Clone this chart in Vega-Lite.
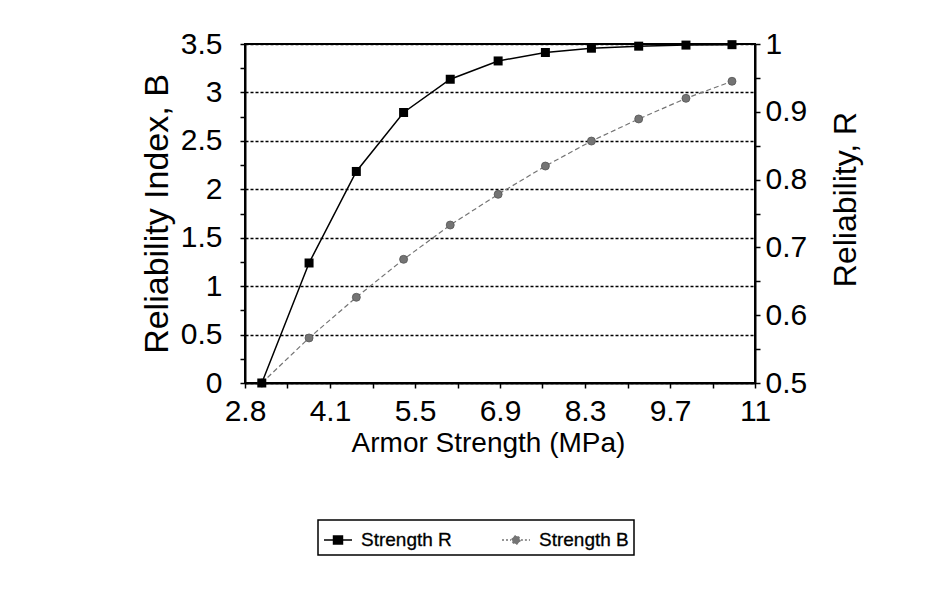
{
  "$schema": "https://vega.github.io/schema/vega-lite/v6.json",
  "width": 510,
  "height": 339,
  "autosize": "none",
  "padding": {"left": 245, "top": 44, "right": 197, "bottom": 211},
  "background": "white",
  "data": {
    "values": [
      {"strength": 3.07, "B": 0.0, "R": 0.5},
      {"strength": 3.83, "B": 0.465, "R": 0.677},
      {"strength": 4.59, "B": 0.885, "R": 0.812},
      {"strength": 5.35, "B": 1.277, "R": 0.899},
      {"strength": 6.10, "B": 1.631, "R": 0.948},
      {"strength": 6.87, "B": 1.948, "R": 0.975},
      {"strength": 7.63, "B": 2.24, "R": 0.9875},
      {"strength": 8.37, "B": 2.498, "R": 0.9938},
      {"strength": 9.13, "B": 2.726, "R": 0.9968},
      {"strength": 9.89, "B": 2.939, "R": 0.9984},
      {"strength": 10.63, "B": 3.115, "R": 0.999}
    ]
  },
  "config": {
    "view": {"stroke": "black", "strokeWidth": 2},
    "axis": {
      "labelFont": "Liberation Sans",
      "titleFont": "Liberation Sans",
      "labelFontSize": 30,
      "titleFontSize": 30,
      "labelColor": "black",
      "titleColor": "black",
      "titleFontWeight": "normal",
      "domainColor": "black",
      "domainWidth": 2,
      "tickColor": "black",
      "tickWidth": 1.5,
      "labelFlush": false,
      "labelOverlap": false,
      "grid": false
    }
  },
  "encoding": {
    "x": {
      "field": "strength",
      "type": "quantitative",
      "scale": {"domain": [2.8, 11], "nice": false, "zero": false},
      "axis": {
        "orient": "bottom",
        "title": "Armor Strength (MPa)",
        "titleFontSize": 28,
        "titleX": 243,
        "values": [2.8, 3.48333, 4.16667, 4.85, 5.53333, 6.21667, 6.9, 7.58333, 8.26667, 8.95, 9.63333, 10.31667, 11],
        "labelExpr": "datum.value < 2.9 ? '2.8' : abs(datum.value - 4.16667) < 0.01 ? '4.1' : abs(datum.value - 5.53333) < 0.01 ? '5.5' : abs(datum.value - 6.9) < 0.01 ? '6.9' : abs(datum.value - 8.26667) < 0.01 ? '8.3' : abs(datum.value - 9.63333) < 0.01 ? '9.7' : datum.value > 10.9 ? '11' : ''",
        "tickSize": 5,
        "labelPadding": 8,
        "titlePadding": 3,
        "encode": {
          "ticks": {"update": {"y": {"value": -5}, "y2": {"value": 5}}},
          "labels": {"update": {"stroke": {"value": "black"}, "strokeWidth": {"value": 0.5}}},
          "title": {"update": {"stroke": {"value": "black"}, "strokeWidth": {"value": 0.4}}}
        }
      }
    }
  },
  "layer": [
    {
      "encoding": {
        "y": {
          "field": "B",
          "type": "quantitative",
          "scale": {"domain": [0, 3.5], "nice": false, "zero": false},
          "axis": {
            "orient": "left",
            "title": "Reliability Index, B",
            "titleFontSize": 34,
            "values": [0, 0.25, 0.5, 0.75, 1, 1.25, 1.5, 1.75, 2, 2.25, 2.5, 2.75, 3, 3.25, 3.5],
            "labelExpr": "datum.value % 0.5 == 0 ? '' + datum.value : ''",
            "tickSize": 5,
            "labelPadding": 18,
            "titlePadding": 6,
            "grid": true,
            "gridColor": "black",
            "gridDash": [3, 2],
            "gridWidth": 1.3,
            "gridOpacity": {"condition": {"test": "datum.value % 0.5 != 0", "value": 0}, "value": 1},
            "encode": {
              "ticks": {
                "update": {
                  "x": [{"test": "datum.value % 0.5 == 0", "value": 5}, {"value": 3}],
                  "x2": [{"test": "datum.value % 0.5 == 0", "value": -5}, {"value": -3}]
                }
              },
              "labels": {"update": {"stroke": {"value": "black"}, "strokeWidth": {"value": 0.5}}},
              "title": {"update": {"stroke": {"value": "black"}, "strokeWidth": {"value": 0.4}}}
            }
          }
        },
        "color": {
          "datum": "Strength B",
          "type": "nominal",
          "scale": {"domain": ["Strength R", "Strength B"], "range": ["#000000", "#747474"]},
          "legend": {
            "orient": "none",
            "legendX": 73,
            "legendY": 476,
            "direction": "horizontal",
            "title": null,
            "strokeColor": "black",
            "fillColor": "white",
            "padding": 5,
            "labelFont": "Liberation Sans",
            "labelFontSize": 19,
            "labelColor": "black",
            "labelOffset": 8,
            "columnPadding": 47,
            "symbolSize": 784,
            "symbolStrokeWidth": 1.5,
            "encode": {
              "legend": {"update": {"strokeWidth": {"value": 1.5}}},
              "symbols": {
                "update": {
                  "shape": {"signal": "datum.value == 'Strength R' ? 'M-1,0H1M-0.32,-0.28H0.32V0.28H-0.32Z' : 'M-1,0H-0.35M0.35,0H1M0.28,0A0.28,0.28 0 1 1 -0.28,0A0.28,0.28 0 1 1 0.28,0Z'"},
                  "fill": {"signal": "datum.value == 'Strength R' ? '#000000' : '#777777'"},
                  "stroke": {"signal": "datum.value == 'Strength R' ? '#000000' : '#555555'"},
                  "strokeDash": {"signal": "datum.value == 'Strength R' ? [1, 0] : [2, 2]"},
                  "opacity": {"value": 1}
                }
              },
              "labels": {"update": {"stroke": {"value": "black"}, "strokeWidth": {"value": 0.3}}}
            }
          }
        }
      },
      "layer": [
        {"mark": {"type": "line", "strokeDash": [5, 3], "strokeWidth": 1.2}},
        {"mark": {"type": "point", "shape": "circle", "filled": true, "size": 64, "opacity": 1, "stroke": "#555555", "strokeWidth": 0.8}}
      ]
    },
    {
      "encoding": {
        "y": {
          "field": "R",
          "type": "quantitative",
          "scale": {"domain": [0.5, 1], "nice": false, "zero": false},
          "axis": {
            "orient": "right",
            "title": "Reliability, R",
            "titleFontSize": 32,
            "titleAngle": 270,
            "titleBaseline": "top",
            "titleY": 155,
            "values": [0.5, 0.55, 0.6, 0.65, 0.7, 0.75, 0.8, 0.85, 0.9, 0.95, 1],
            "labelExpr": "round(datum.value * 100) % 10 == 0 ? (datum.value == 1 ? '1' : format(datum.value, '.1f')) : ''",
            "tickSize": 5,
            "labelPadding": 5,
            "titlePadding": 24,
            "encode": {
              "ticks": {
                "update": {
                  "x": [{"test": "round(datum.value * 100) % 10 == 0", "value": -5}, {"value": -3}],
                  "x2": [{"test": "round(datum.value * 100) % 10 == 0", "value": 5}, {"value": 3}]
                }
              },
              "labels": {"update": {"stroke": {"value": "black"}, "strokeWidth": {"value": 0.5}}},
              "title": {"update": {"stroke": {"value": "black"}, "strokeWidth": {"value": 0.4}}}
            }
          }
        },
        "color": {"datum": "Strength R", "type": "nominal"}
      },
      "layer": [
        {"mark": {"type": "line", "strokeWidth": 1.5}},
        {"mark": {"type": "point", "shape": "square", "filled": true, "size": 81, "opacity": 1}}
      ]
    }
  ],
  "resolve": {"scale": {"y": "independent"}}
}
